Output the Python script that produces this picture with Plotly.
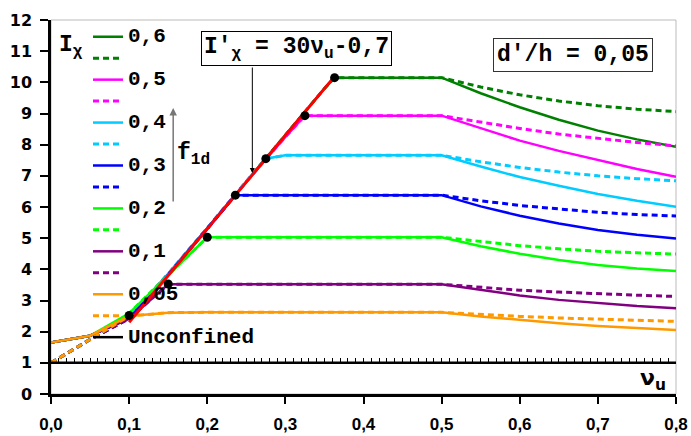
import plotly.graph_objects as go

# ---------------- data ----------------
labels = ["0,6", "0,5", "0,4", "0,3", "0,2", "0,1", "0,05"]
colors = ["#008000", "#FF00FF", "#00CCFF", "#0000FF", "#00FF00", "#800080", "#FF9900"]

# rising part + start of plateau (nu, I)
rise_nu = [
    [0, 0.05, 0.1, 0.15, 0.2, 0.25, 0.3, 0.35, 0.363],
    [0, 0.05, 0.1, 0.15, 0.2, 0.25, 0.3, 0.325],
    [0, 0.05, 0.1, 0.15, 0.2, 0.25, 0.275, 0.3],
    [0, 0.05, 0.1, 0.15, 0.2, 0.236],
    [0, 0.05, 0.1, 0.15, 0.2],
    [0, 0.05, 0.1, 0.15],
    [0, 0.05, 0.1, 0.15, 0.2],
]
rise_I_solid = [
    [1.65, 1.87, 2.45, 3.85, 5.32, 6.82, 8.3, 9.8, 10.15],
    [1.65, 1.87, 2.45, 3.85, 5.32, 6.82, 8.25, 8.93],
    [1.65, 1.87, 2.45, 3.85, 5.32, 6.8, 7.55, 7.66],
    [1.65, 1.87, 2.42, 3.82, 5.3, 6.38],
    [1.65, 1.87, 2.59, 3.82, 5.03],
    [1.65, 1.87, 2.42, 3.52],
    [1.65, 1.87, 2.5, 2.61, 2.62],
]
rise_I_dotted = [
    [1.0, 1.75] + r[2:] for r in rise_I_solid
]

# descending part, nu = 0.5 ... 0.8
desc_nu = [0.5, 0.55, 0.6, 0.65, 0.7, 0.75, 0.8]
desc_I_solid = [
    [10.15, 9.65, 9.2, 8.8, 8.45, 8.17, 7.93],
    [8.93, 8.52, 8.13, 7.8, 7.5, 7.22, 6.97],
    [7.66, 7.3, 6.96, 6.68, 6.42, 6.2, 6.01],
    [6.38, 6.02, 5.72, 5.47, 5.26, 5.11, 4.99],
    [5.03, 4.74, 4.5, 4.3, 4.14, 4.03, 3.95],
    [3.52, 3.33, 3.16, 3.02, 2.91, 2.82, 2.75],
    [2.62, 2.49, 2.37, 2.27, 2.18, 2.11, 2.05],
]
desc_I_dotted = [
    [10.15, 9.85, 9.6, 9.4, 9.25, 9.14, 9.06],
    [8.93, 8.72, 8.52, 8.34, 8.2, 8.07, 7.96],
    [7.66, 7.45, 7.27, 7.12, 7.0, 6.91, 6.84],
    [6.38, 6.2, 6.05, 5.93, 5.83, 5.76, 5.71],
    [5.03, 4.89, 4.76, 4.66, 4.58, 4.53, 4.49],
    [3.52, 3.42, 3.33, 3.27, 3.21, 3.17, 3.13],
    [2.62, 2.55, 2.49, 2.44, 2.40, 2.36, 2.33],
]

unconf_nu = [0, 0.8]
unconf_I = [1, 1]

red_nu = [0.1, 0.362]
red_I = [2.3, 10.16]

dot_nu = [0.1, 0.15, 0.2, 0.236, 0.275, 0.325, 0.363]
dot_I = [2.52, 3.53, 5.03, 6.38, 7.55, 8.93, 10.15]

x_ticks = [0, 0.1, 0.2, 0.3, 0.4, 0.5, 0.6, 0.7, 0.8]
x_ticktext = ["0,0", "0,1", "0,2", "0,3", "0,4", "0,5", "0,6", "0,7", "0,8"]
y_ticks = list(range(0, 13))

# ---------------- figure ----------------
MONO = "Liberation Mono"
fig = go.Figure()

for i, lab in enumerate(labels):
    xs = rise_nu[i] + desc_nu
    fig.add_trace(go.Scatter(
        x=xs, y=rise_I_solid[i] + desc_I_solid[i], mode="lines",
        line=dict(color=colors[i], width=2.5),
        name=f'<span style="font-size:21px">{lab}</span>', legendrank=2 * i + 1,
        hoverinfo="skip"))
    fig.add_trace(go.Scatter(
        x=xs, y=rise_I_dotted[i] + desc_I_dotted[i], mode="lines",
        line=dict(color=colors[i], width=3, dash="6px,4px"),
        name=" ", legendrank=2 * i + 2, hoverinfo="skip"))

fig.add_trace(go.Scatter(
    x=unconf_nu, y=unconf_I, mode="lines", xaxis="x2", yaxis="y",
    line=dict(color="black", width=2.5),
    name='<span style="font-size:21px">Unconfined</span>', legendrank=20,
    hoverinfo="skip"))

fig.add_trace(go.Scatter(
    x=red_nu, y=red_I, mode="lines", line=dict(color="#FF0000", width=3),
    showlegend=False, hoverinfo="skip"))
fig.add_trace(go.Scatter(
    x=dot_nu, y=dot_I, mode="markers", marker=dict(color="black", size=9),
    showlegend=False, hoverinfo="skip"))

ann_font = dict(family=MONO, size=23, color="black", weight="bold")
fig.add_annotation(x=0.026, y=11.15, xref="x", yref="y", showarrow=False,
                   text="I<sub>χ</sub>", font=ann_font)
fig.add_annotation(x=0.77, y=0.45, xref="x", yref="y", showarrow=False,
                   text="ν<sub>u</sub>",
                   font=dict(family="DejaVu Sans", size=22, color="black", weight="bold"))
fig.add_annotation(x=0.314, y=11.1, xref="x", yref="y", showarrow=False,
                   text="I'<sub>χ</sub> = 30ν<sub>u</sub>-0,7", font=ann_font,
                   bordercolor="black", borderwidth=1, borderpad=2, bgcolor="white")
fig.add_annotation(x=0.668, y=10.88, xref="x", yref="y", showarrow=False,
                   text="d'/h = 0,05", font=ann_font,
                   bordercolor="#333333", borderwidth=1, borderpad=3, bgcolor="white")
fig.add_annotation(x=0.182, y=7.7, xref="x", yref="y", showarrow=False,
                   text="f<sub>1d</sub>", font=ann_font)
# arrows
fig.add_annotation(x=0.1564, y=9.18, xref="x", yref="y", ax=0, ay=95, text="",
                   showarrow=True, arrowcolor="#777777", arrowwidth=1.5,
                   arrowhead=2, arrowsize=1)
fig.add_annotation(x=0.2577, y=7.09, xref="x", yref="y", ax=0, ay=-107, text="",
                   showarrow=True, arrowcolor="black", arrowwidth=1,
                   arrowhead=2, arrowsize=1)

# plot-area border (gray)
fig.add_shape(type="rect", xref="paper", yref="paper", x0=0, y0=0, x1=1, y1=1,
              line=dict(color="#BBBBBB", width=1), layer="below")

fig.update_layout(
    width=691, height=436,
    margin=dict(l=51, r=15, t=20, b=42, autoexpand=False),
    paper_bgcolor="white", plot_bgcolor="white",
    showlegend=True,
    legend=dict(
        xref="container", yref="container", x=88 / 691, y=1 - 21 / 436,
        xanchor="left", yanchor="top", maxheight=1,
        bgcolor="rgba(0,0,0,0)", borderwidth=0,
        font=dict(family=MONO, size=14.2, color="black", weight="bold"),
        tracegroupgap=0,
    ),
    xaxis=dict(
        range=[0, 0.8], tickvals=x_ticks, ticktext=x_ticktext,
        showgrid=False, zeroline=False, showline=True, linecolor="black",
        linewidth=2.5, ticks="outside", ticklen=7, tickwidth=2, tickcolor="black",
        ticklabelstandoff=6,
        tickfont=dict(family="Liberation Sans", size=17, color="black", weight="bold"),
    ),
    xaxis2=dict(
        range=[0, 0.8], overlaying="x", anchor="free", position=1 / 12,
        showgrid=False, zeroline=False, showline=True, linecolor="black",
        linewidth=2, ticks="inside", ticklen=4, tickwidth=1, tickcolor="black",
        dtick=0.01, tick0=0, showticklabels=False,
    ),
    yaxis=dict(
        range=[0, 12], tickvals=y_ticks,
        showgrid=False, zeroline=False, showline=True, linecolor="black",
        linewidth=2.5, ticks="outside", ticklen=8, tickwidth=2, tickcolor="black",
        ticklabelstandoff=5,
        tickfont=dict(family="DejaVu Sans", size=16, color="black", weight="bold"),
    ),
)

fig.write_html("out.html", config={"displayModeBar": False},
               post_script="document.body.style.margin='0';document.body.style.overflow='hidden';")
